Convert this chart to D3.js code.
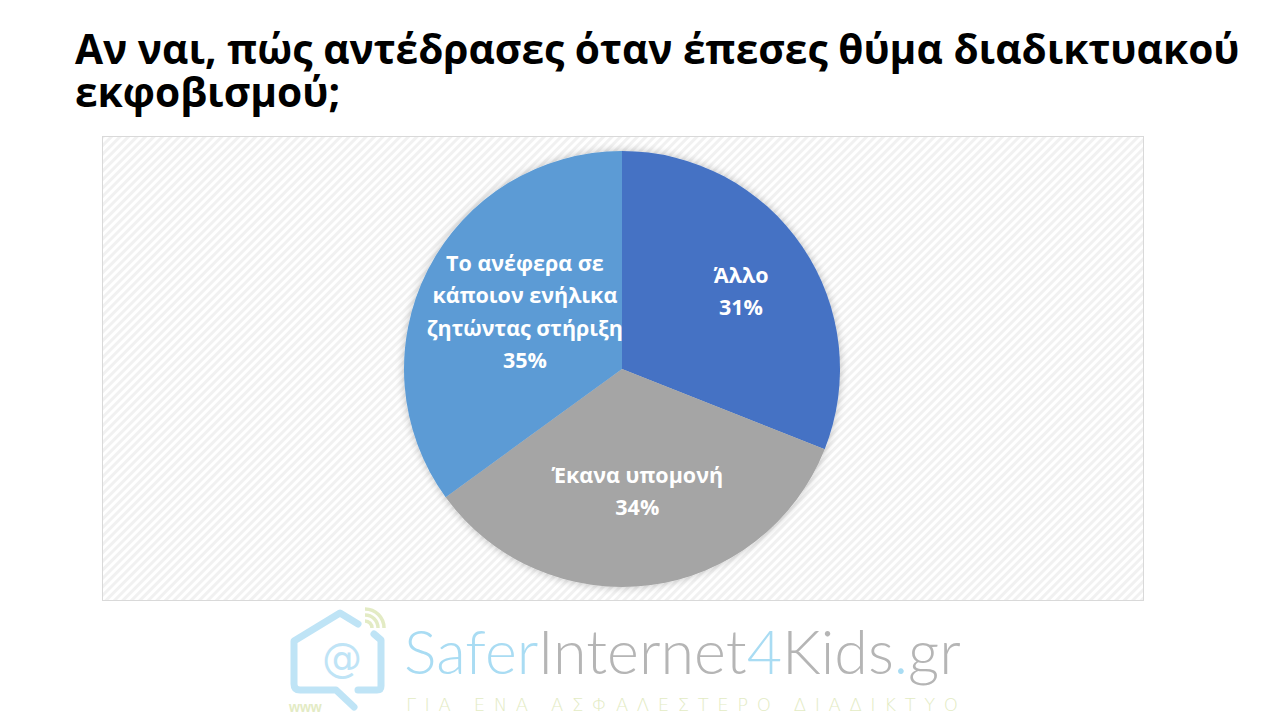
<!DOCTYPE html>
<html><head><meta charset="utf-8">
<script src="https://cdn.jsdelivr.net/npm/d3@7"></script>
<style>body{margin:0;background:#fff;}svg{display:block;}</style>
</head><body>
<svg id="c" width="1280" height="720"></svg>
<script>
const categories = ["Άλλο", "Έκανα υπομονή", "Το ανέφερα σε κάποιον ενήλικα ζητώντας στήριξη"];
const labelLines = [["Άλλο"], ["Έκανα υπομονή"], ["Το ανέφερα σε", "κάποιον ενήλικα", "ζητώντας στήριξη"]];
const values = [31, 34, 35];
const colors = ["#4472C4", "#A5A5A5", "#5B9BD5"];
const titleLines = ["Αν ναι, πώς αντέδρασες όταν έπεσες θύμα διαδικτυακού", "εκφοβισμού;"];

// label placement (layout only)
const labelRadius = [0.66, 0.56, 0.5];
const labelNudgeY = [4, 2, -7];

const svg = d3.select("#c");
const defs = svg.append("defs");
const pat = defs.append("pattern").attr("id","hatch").attr("patternUnits","userSpaceOnUse")
  .attr("width",6).attr("height",6).attr("patternTransform","rotate(45)");
pat.append("rect").attr("width",6).attr("height",6).attr("fill","#ffffff");
pat.append("rect").attr("width",3).attr("height",6).attr("fill","#f1f1f1");
const f = defs.append("filter").attr("id","sh").attr("x","-20%").attr("y","-20%").attr("width","140%").attr("height","140%");
f.append("feGaussianBlur").attr("in","SourceAlpha").attr("stdDeviation",4).attr("result","b");
f.append("feComponentTransfer").attr("in","b").attr("result","b2").append("feFuncA").attr("type","linear").attr("slope",0.25);
const m = f.append("feMerge"); m.append("feMergeNode").attr("in","b2"); m.append("feMergeNode").attr("in","SourceGraphic");

// title
const title = svg.append("text").attr("x",75).attr("y",64).attr("font-family","Open Sans, Noto Sans, sans-serif")
  .attr("font-weight","bold").attr("font-size",36).attr("fill","#000");
title.selectAll("tspan").data(titleLines).join("tspan").attr("x",75).attr("dy",(d,i)=>i?43:0).text(d=>d);
const firstW = title.select("tspan").node().getComputedTextLength();
title.attr("font-size", 36*1165/firstW);

// chart area
svg.append("rect").attr("x",102.5).attr("y",136.5).attr("width",1041).attr("height",464)
  .attr("fill","url(#hatch)").attr("stroke","#d9d9d9").attr("stroke-width",1);

const cx = 622, cy = 369, r = 218;
const pie = d3.pie().sort(null).value(d=>d.v);
const arcs = pie(values.map((v,i)=>({v, i})));
const arc = d3.arc().innerRadius(0).outerRadius(r);
const g = svg.append("g").attr("transform",`translate(${cx},${cy})`);
g.append("g").attr("filter","url(#sh)").selectAll("path").data(arcs).join("path")
  .attr("d",arc).attr("fill",d=>colors[d.data.i]);

const lineH = 32.5;
arcs.forEach(a=>{
  const i = a.data.i;
  const la = d3.arc().innerRadius(r*labelRadius[i]).outerRadius(r*labelRadius[i]);
  const lines = labelLines[i].concat([values[i]+"%"]);
  const [lx, ly] = la.centroid(a);
  const t = g.append("text").attr("text-anchor","middle").attr("font-family","Open Sans, Noto Sans, sans-serif")
    .attr("font-weight",700).attr("font-size",21.5).attr("fill","#fff");
  const y0 = ly - (lines.length-1)*lineH/2 + 7 + labelNudgeY[i];
  lines.forEach((s,k)=>t.append("tspan").attr("x",lx).attr("y",y0+k*lineH).text(s));
});

// watermark logo
const lg = svg.append("g");
const blueL = "#bfe4f6", greenL = "#e3ebc4";
lg.append("path").attr("d","M358,624 L340,613 L294,641 L294,684 Q294,690 300,690 L336,690 L354,707")
  .attr("fill","none").attr("stroke",blueL).attr("stroke-width",7).attr("stroke-linejoin","round").attr("stroke-linecap","round");
lg.append("path").attr("d","M374,634 L381,640 L381,686 Q381,690 377,690 L358,690")
  .attr("fill","none").attr("stroke",blueL).attr("stroke-width",7).attr("stroke-linejoin","round").attr("stroke-linecap","round");
[7,13,19].forEach(rr=>lg.append("path").attr("d",`M365,${628-rr} A${rr},${rr} 0 0 1 ${365+rr},628`)
  .attr("fill","none").attr("stroke",greenL).attr("stroke-width",3.5));
lg.append("text").attr("x",342).attr("y",672).attr("text-anchor","middle").attr("font-family","DejaVu Sans, sans-serif")
  .attr("font-size",40).attr("fill",blueL).text("@");
lg.append("text").attr("x",289).attr("y",712).attr("font-family","Liberation Sans, sans-serif").attr("font-weight","bold").attr("font-size",14).attr("fill",greenL).text("www");
const lt = lg.append("text").attr("x",404).attr("y",674).attr("font-family","Lato, Open Sans, sans-serif").attr("font-weight",300).attr("font-size",61);
[["Safer","#a9dcf3"],["Internet","#b5b5b5"],["4","#a9dcf3"],["Kids","#b5b5b5"],[".","#a9dcf3"],["gr","#b5b5b5"]].forEach(([s,c])=>lt.append("tspan").attr("fill",c).text(s));
lg.append("text").attr("x",406).attr("y",711).attr("font-family","DejaVu Sans, sans-serif").attr("font-weight",200)
  .attr("font-size",18).attr("textLength",552).attr("lengthAdjust","spacing").attr("fill",greenL).text("ΓΙΑ ΕΝΑ ΑΣΦΑΛΕΣΤΕΡΟ ΔΙΑΔΙΚΤΥΟ");
</script>
</body></html>
